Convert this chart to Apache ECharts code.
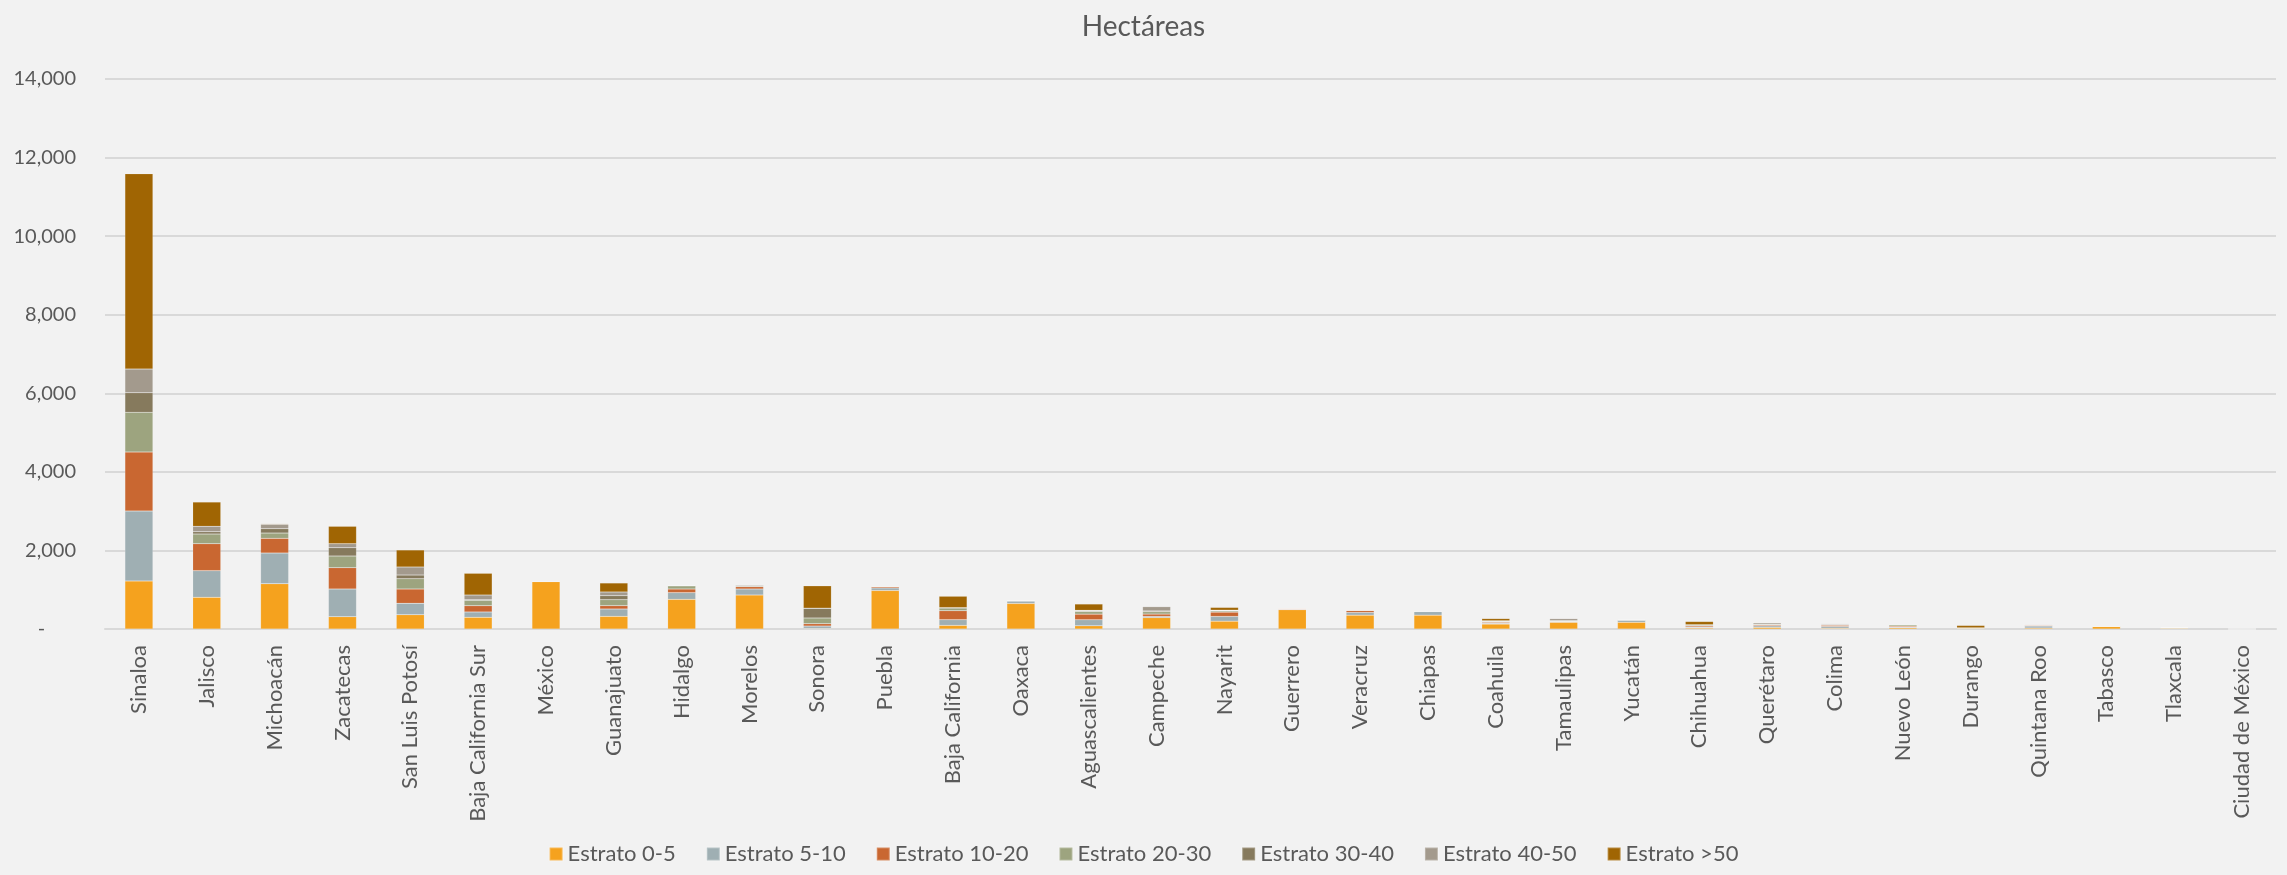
<!DOCTYPE html>
<html>
<head>
<meta charset="utf-8">
<script src="https://cdn.jsdelivr.net/npm/echarts@6/dist/echarts.min.js"></script>
<style>
html,body{margin:0;padding:0;background:#F2F2F2;}
#chart{width:2287px;height:875px;}
</style>
</head>
<body>
<div id="chart"></div>
<script>
const categories = ['Sinaloa','Jalisco','Michoacán','Zacatecas','San Luis Potosí','Baja California Sur','México','Guanajuato','Hidalgo','Morelos','Sonora','Puebla','Baja California','Oaxaca','Aguascalientes','Campeche','Nayarit','Guerrero','Veracruz','Chiapas','Coahuila','Tamaulipas','Yucatán','Chihuahua','Querétaro','Colima','Nuevo León','Durango','Quintana Roo','Tabasco','Tlaxcala','Ciudad de México'];

const seriesNames = ['Estrato 0-5','Estrato 5-10','Estrato 10-20','Estrato 20-30','Estrato 30-40','Estrato 40-50','Estrato >50'];

const estrato0_5   = [1222, 807, 1153, 313, 364, 298, 1205, 322, 755, 865, 15, 980, 92, 650, 82, 290, 199, 490, 352, 352, 125, 170, 170, 25, 40, 20, 30, 20, 25, 65, 20, 0];
const estrato5_10  = [1781, 677, 781, 705, 290, 135, 12, 187, 170, 153, 60, 65, 145, 59, 153, 30, 120, 10, 68, 94, 20, 15, 55, 20, 40, 45, 20, 0, 50, 0, 10, 0];
const estrato10_20 = [1502, 687, 374, 543, 364, 160, 0, 85, 93, 59, 60, 30, 229, 10, 143, 60, 110, 20, 52, 0, 25, 10, 0, 30, 25, 30, 25, 10, 20, 0, 0, 0];
const estrato20_30 = [1010, 247, 135, 297, 262, 137, 0, 153, 80, 20, 145, 15, 68, 8, 68, 60, 30, 0, 0, 0, 15, 20, 5, 15, 20, 10, 35, 0, 0, 0, 0, 0];
const estrato30_40 = [499, 59, 110, 211, 94, 15, 0, 102, 10, 0, 245, 0, 10, 0, 15, 20, 10, 0, 0, 0, 15, 0, 0, 20, 0, 10, 0, 0, 0, 0, 0, 0];
const estrato40_50 = [603, 137, 112, 102, 204, 120, 0, 93, 10, 23, 5, 0, 0, 0, 15, 110, 10, 0, 0, 0, 10, 50, 5, 0, 35, 20, 0, 0, 15, 0, 10, 0];
const estrato50    = [4970, 618, 15, 443, 433, 553, 0, 229, 0, 0, 570, 0, 290, 0, 160, 0, 70, 0, 0, 0, 55, 0, 0, 80, 0, 0, 0, 60, 0, 0, 0, 0];

const yTicks = [0, 2000, 4000, 6000, 8000, 10000, 12000, 14000];

const colors = ['#F5A21E','#9FAFB3','#C96731','#9DA47F','#867A5D','#A39A8D','#A06503'];
const allValues = [estrato0_5, estrato5_10, estrato10_20, estrato20_30, estrato30_40, estrato40_50, estrato50];

const font = 'Lato, "Open Sans", sans-serif';

const chart = echarts.init(document.getElementById('chart'), null, {renderer:'canvas'});
chart.setOption({
  backgroundColor: '#F2F2F2',
  animation: false,
  color: colors,
  title: {
    text: 'Hectáreas',
    left: 'center',
    top: 8,
    textStyle: {fontFamily: font, fontSize: 28, fontWeight: 'normal', color: '#595959'}
  },
  legend: {
    data: seriesNames,
    bottom: 5,
    left: 'center',
    icon: 'rect',
    itemWidth: 13,
    itemHeight: 13,
    itemGap: 30,
    textStyle: {fontFamily: font, fontSize: 22, color: '#595959'}
  },
  grid: {left: 105, right: 11, top: 79, bottom: 246, containLabel: false},
  xAxis: {
    type: 'category',
    data: categories,
    axisLine: {lineStyle: {color: '#D9D9D9', width: 2}},
    axisTick: {show: false},
    axisLabel: {
      rotate: 90,
      interval: 0,
      margin: 16,
      fontFamily: font,
      fontSize: 22,
      color: '#595959'
    }
  },
  yAxis: {
    type: 'value',
    min: yTicks[0],
    max: yTicks[yTicks.length-1],
    interval: 2000,
    axisLine: {show: false},
    axisTick: {show: false},
    splitLine: {lineStyle: {color: '#D9D9D9', width: 2}},
    axisLabel: {
      margin: 29,
      fontFamily: font,
      fontSize: 20,
      color: '#595959',
      formatter: function(v){ return v === 0 ? '-      ' : v.toLocaleString('en-US'); }
    }
  },
  series: seriesNames.map((name, i) => ({
    name: name,
    type: 'bar',
    stack: 'total',
    barWidth: 28,
    data: allValues[i],
    itemStyle: {color: colors[i], borderColor: 'rgba(255,255,255,0.25)', borderWidth: 0.5}
  }))
});
</script>
</body>
</html>
